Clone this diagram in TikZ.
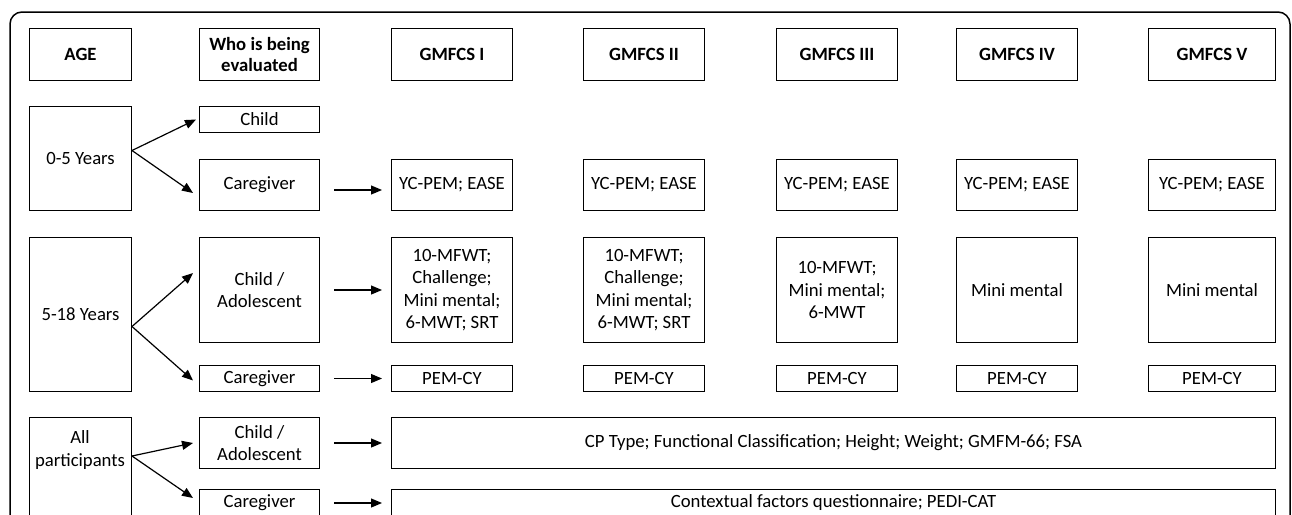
\documentclass[tikz,border=0pt]{standalone}
\usepackage{fontspec}
\setmainfont{Carlito}
\usetikzlibrary{arrows.meta, positioning, calc}

\tikzset{
  cell/.style={draw, line width=1pt, anchor=north west, inner sep=0pt, align=center,
    font=\fontsize{18.7}{22.4}\selectfont},
  head/.style={cell, font=\fontsize{18.7}{21}\selectfont\bfseries},
  txt/.style={align=center, font=\fontsize{18.7}{22.4}\selectfont},
  conn/.style={->, line width=1.2pt},
  gap/.style={shorten <=14pt, shorten >=9pt},
  >={Triangle[length=11pt, width=9pt]}
}

\begin{document}
\begin{tikzpicture}[x=1pt, y=-1pt]
  \useasboundingbox (0,0) rectangle (1292,514);
  \clip (0,0) rectangle (1292,514);
  \draw[line width=1.5pt, rounded corners=12pt] (10,12) rectangle (1290,560);

  % header row and the GMFCS columns
  \node[head, minimum width=102, minimum height=52] (age) at (29,28) {AGE};
  \node[head, minimum width=120, minimum height=52] (who) at (199,28) {Who is being\\evaluated};
  \foreach \g/\x/\w in {I/391/121, II/583/121, III/776/121, IV/956/121, V/1148/127} {
    \node[head, minimum width=\w, minimum height=52] (g\g) at (\x,28) {GMFCS \g};
    \node[cell, minimum width=\w, minimum height=51] (yc\g) at (\x,159) {YC-PEM; EASE};
    \node[cell, minimum width=\w, minimum height=26] (pem\g) at (\x,365) {PEM-CY};
  }

  % 0-5 years
  \node[cell, minimum width=102, minimum height=104] (yrs05) at (29,106) {0-5 Years};
  \node[cell, minimum width=120, minimum height=26] (child05) at (199,106) {Child};
  \node[cell, minimum width=120, minimum height=51] (care05) at (199,159) {Caregiver};

  % 5-18 years
  \node[cell, minimum width=102, minimum height=154] (yrs518) at (29,237) {5-18 Years};
  \node[cell, minimum width=120, minimum height=105] (child518) at (199,237) {Child /\\Adolescent};
  \node[cell, minimum width=120, minimum height=26] (care518) at (199,365) {Caregiver};
  \node[cell, minimum width=121, minimum height=105] (tI) at (391,237) {10-MFWT;\\Challenge;\\Mini mental;\\6-MWT; SRT};
  \node[cell, minimum width=121, minimum height=105] (tII) at (583,237) {10-MFWT;\\Challenge;\\Mini mental;\\6-MWT; SRT};
  \node[cell, minimum width=121, minimum height=105] (tIII) at (776,237) {10-MFWT;\\Mini mental;\\6-MWT};
  \node[cell, minimum width=121, minimum height=105] (tIV) at (956,237) {Mini mental};
  \node[cell, minimum width=127, minimum height=105] (tV) at (1148,237) {Mini mental};

  % all participants
  \node[cell, minimum width=102, minimum height=110] (allp) at (29,417) {};
  \node[txt] (allt) at (80,450) {All\\participants};
  \node[cell, minimum width=120, minimum height=51] (childall) at (199,417) {Child /\\Adolescent};
  \node[cell, minimum width=120, minimum height=27] (careall) at (199,489) {Caregiver};
  \node[cell, minimum width=884, minimum height=51] (body) at (391,417) {CP Type; Functional Classification; Height; Weight; GMFM-66; FSA};
  \node[cell, minimum width=884, minimum height=27] (ctx) at (391,489) {Contextual factors questionnaire; PEDI-CAT};

  % fans
  \coordinate (f05) at ($(yrs05.east)+(0,-8)$);
  \draw[conn] (f05) -- ($(child05.west)+(-3,0)$);
  \draw[conn] (f05) -- ($(care05.west)+(-6,8)$);
  \coordinate (f518) at ($(yrs518.east)+(0,12)$);
  \draw[conn] (f518) -- ($(child518.west)+(-6,-17)$);
  \draw[conn] (f518) -- ($(care518.west)+(-6,2)$);
  \coordinate (fall) at ($(allp.north east)+(0,39)$);
  \draw[conn] (fall) -- ($(childall.west)+(-6,0)$);
  \draw[conn] (fall) -- ($(careall.west)+(-6,-5)$);

  % to the measures
  \draw[conn, gap] ([yshift=-5pt]care05.east) -- ([yshift=-5pt]ycI.west);
  \draw[conn, gap] (child518) -- (tI);
  \draw[conn, gap] (care518) -- (pemI);
  \draw[conn, gap] (childall) -- (body);
  \draw[conn, gap] (careall) -- (ctx);
\end{tikzpicture}
\end{document}
